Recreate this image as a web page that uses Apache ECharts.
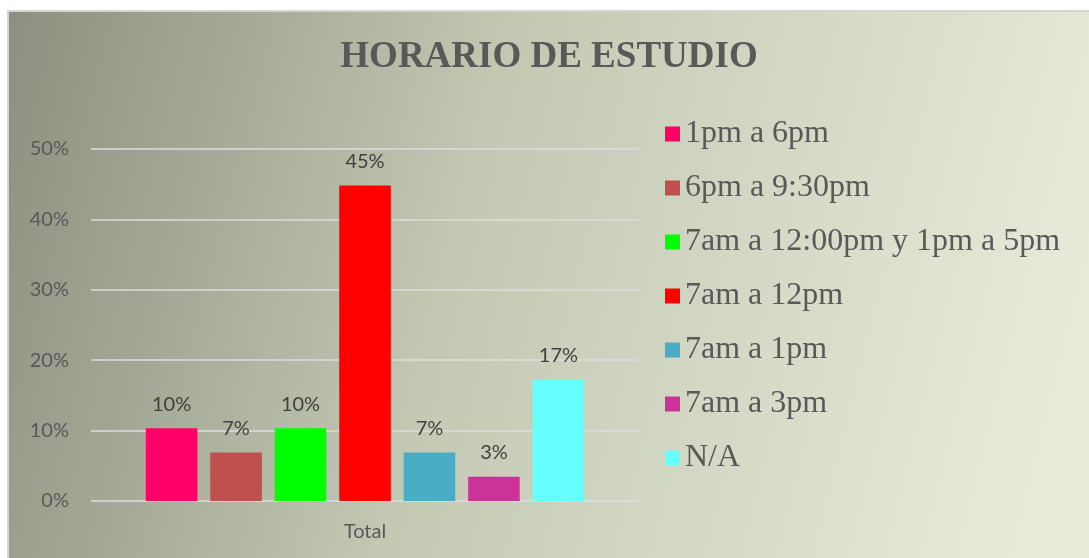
<!DOCTYPE html>
<html>
<head>
<meta charset="utf-8">
<script src="https://cdn.jsdelivr.net/npm/echarts@6/dist/echarts.min.js"></script>
<style>
  html, body { margin: 0; padding: 0; background: #ffffff; }
  .chart-box {
    position: absolute;
    left: 7px;
    top: 10px;
    width: 1082px;
    height: 548px;
    box-sizing: border-box;
    border-left: 2px solid #d4d4d4;
    border-top: 2px solid #d4d4d4;
  }
</style>
</head>
<body>
<div id="main" class="chart-box"></div>
<script>
  // datos del grafico
  const categories = ['Total']
  const seriesNames = ['1pm a 6pm', '6pm a 9:30pm', '7am a 12:00pm y 1pm a 5pm', '7am a 12pm', '7am a 1pm', '7am a 3pm', 'N/A']
  const seriesValues = [10.34, 6.9, 10.34, 44.83, 6.9, 3.45, 17.24]
  const seriesColors = ['#ff0066', '#c0504d', '#00ff00', '#ff0000', '#4bacc6', '#cc3399', '#66ffff']
  const yTicks = { min: 0, max: 50, interval: 10 }

  const series = seriesNames.map((name, i) => ({
    name: name,
    type: 'bar',
    data: [seriesValues[i]],
    barGap: '25%',
    barCategoryGap: '20%',
    itemStyle: { color: seriesColors[i] },
    label: {
      show: true,
      position: 'top',
      distance: 14,
      fontFamily: 'Lato',
      fontSize: 20,
      color: '#404040',
      formatter: p => Math.round(p.value) + '%'
    }
  }))

  const option = {
    backgroundColor: new echarts.graphic.LinearGradient(0, 0, 1, 0.5, [
      { offset: 0, color: '#8b9080' },
      { offset: 0.45, color: '#c4c9b4' },
      { offset: 1, color: '#e6ecd9' }
    ]),
    title: {
      text: 'HORARIO DE ESTUDIO',
      left: 'center',
      top: 22,
      textStyle: {
        fontFamily: 'Liberation Serif',
        fontWeight: 'bold',
        fontSize: 37,
        color: '#595959'
      }
    },
    legend: {
      orient: 'vertical',
      left: 651,
      top: 100,
      itemWidth: 15,
      itemHeight: 15,
      itemGap: 20,
      icon: 'rect',
      textStyle: {
        fontFamily: 'Liberation Serif',
        fontSize: 32,
        lineHeight: 34,
        color: '#595959'
      },
      data: seriesNames
    },
    grid: {
      left: 82,
      top: 137,
      width: 548,
      bottom: 57,
      containLabel: false
    },
    xAxis: {
      type: 'category',
      data: categories,
      axisLine: { show: false },
      axisTick: { show: false },
      axisLabel: {
        margin: 21,
        fontFamily: 'Lato',
        fontSize: 20,
        color: '#595959'
      }
    },
    yAxis: {
      type: 'value',
      min: yTicks.min,
      max: yTicks.max,
      interval: yTicks.interval,
      axisLine: { show: false },
      axisTick: { show: false },
      axisLabel: {
        margin: 22,
        fontFamily: 'Lato',
        fontSize: 20,
        color: '#595959',
        formatter: '{value}%'
      },
      splitLine: { lineStyle: { color: '#dcdcdc', width: 1.5 } }
    },
    series: series
  }

  const myChart = echarts.init(document.getElementById('main'))
  myChart.setOption(option)
</script>
</body>
</html>
